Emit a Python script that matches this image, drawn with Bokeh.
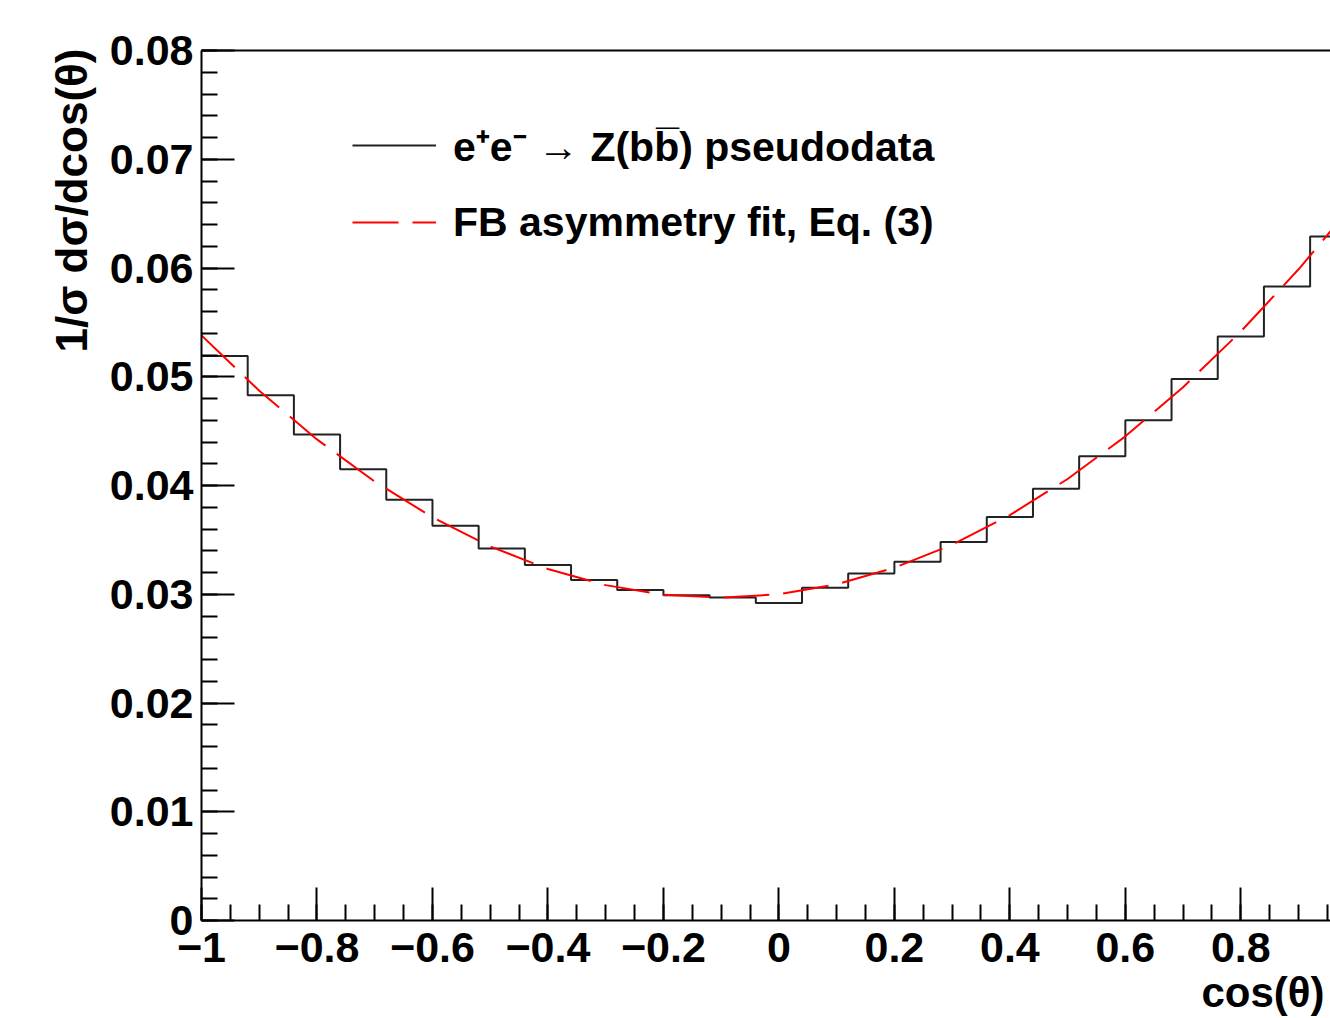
import numpy as np
from bokeh.plotting import figure
from bokeh.models import Range1d, LinearAxis, FixedTicker, Title, Legend, LegendItem
from bokeh.embed import file_html
from bokeh.resources import INLINE

# ---- data ----
bin_edges = np.round(np.linspace(-1.0, 1.0, 26), 4)
hist_values = [0.0519, 0.0483, 0.0447, 0.0415, 0.0387, 0.0363, 0.0342, 0.0327, 0.0313,
               0.0304, 0.0299, 0.0297, 0.0292, 0.0306, 0.0319, 0.0330, 0.0348, 0.0371,
               0.0397, 0.0427, 0.0460, 0.0498, 0.0537, 0.0583, 0.0629]
fit_x = [-1.0, -0.9, -0.8, -0.7, -0.6, -0.5, -0.4, -0.3, -0.2, -0.1, 0.0,
         0.1, 0.2, 0.3, 0.4, 0.5, 0.6, 0.7, 0.8, 0.9, 1.0]
fit_y = [0.0538, 0.04872, 0.04424, 0.04036, 0.03708, 0.0344, 0.03232, 0.03084, 0.02996,
         0.02968, 0.0300, 0.03092, 0.03244, 0.03456, 0.03728, 0.0406, 0.04452, 0.04904,
         0.05416, 0.05988, 0.0662]
x_ticks = [-1.0, -0.8, -0.6, -0.4, -0.2, 0.0, 0.2, 0.4, 0.6, 0.8]
x_tick_labels = ["\u22121", "\u22120.8", "\u22120.6", "\u22120.4", "\u22120.2", "0", "0.2", "0.4", "0.6", "0.8"]
y_ticks = [0.0, 0.01, 0.02, 0.03, 0.04, 0.05, 0.06, 0.07, 0.08]
y_tick_labels = ["0", "0.01", "0.02", "0.03", "0.04", "0.05", "0.06", "0.07", "0.08"]
legend_labels = ["e\u207Ae\u207B \u2192 Z(bb\u0305) pseudodata", "FB asymmetry fit, Eq. (3)"]
x_title = "cos(\u03b8)"
y_title = "1/\u03c3 d\u03c3/dcos(\u03b8)"

FONT = "Liberation Sans"

p = figure(width=1330, height=1018, x_range=Range1d(-1.0, 0.9553), y_range=Range1d(0.0, 0.08),
           output_backend="svg", toolbar_location=None,
           min_border_left=201, min_border_right=0, min_border_top=50, min_border_bottom=98)
p.outline_line_color = None
p.xgrid.visible = False
p.ygrid.visible = False
p.background_fill_color = "white"
p.border_fill_color = "white"

step_x = list(bin_edges)
step_y = hist_values + [hist_values[-1]]
hist = p.step(step_x, step_y, mode="after", line_color="#222222", line_width=2)
fit = p.line(fit_x, fit_y, line_color="#ff0000", line_width=2, line_dash="46 14")

x_minor = [round(v, 3) for v in np.arange(-1.0, 1.001, 0.05)]
y_minor = [round(v, 4) for v in np.arange(0.0, 0.0801, 0.002)]

for ax, ticks, labels, minor in ((p.xaxis[0], x_ticks, x_tick_labels, x_minor),
                                 (p.yaxis[0], y_ticks, y_tick_labels, y_minor)):
    ax.ticker = FixedTicker(ticks=ticks, minor_ticks=minor)
    ax.major_label_overrides = dict(zip(ticks, labels))
    ax.major_tick_in = 33
    ax.major_tick_out = 0
    ax.minor_tick_in = 16
    ax.minor_tick_out = 0
    ax.axis_line_width = 2
    ax.axis_line_color = "black"
    ax.major_tick_line_width = 2
    ax.minor_tick_line_width = 2
    ax.major_tick_line_color = "black"
    ax.minor_tick_line_color = "black"
    ax.major_label_text_font = FONT
    ax.major_label_text_font_style = "bold"
    ax.major_label_text_font_size = "43px"
    ax.major_label_text_color = "black"

p.xaxis.major_label_standoff = 12
p.yaxis.major_label_standoff = 8

top_axis = LinearAxis(ticker=FixedTicker(ticks=[]), major_label_text_font_size="0px",
                      axis_line_width=2, axis_line_color="black",
                      major_tick_line_color=None, minor_tick_line_color=None)
p.add_layout(top_axis, "above")

p.add_layout(Title(text=x_title, align="right", offset=6, standoff=4,
                   text_font=FONT, text_font_style="bold", text_font_size="42px",
                   text_color="black"), "below")
p.add_layout(Title(text=y_title, align="right", offset=-2, standoff=21,
                   text_font=FONT, text_font_style="bold", text_font_size="44px",
                   text_color="black"), "left")

legend = Legend(items=[LegendItem(label=legend_labels[0], renderers=[hist]),
                       LegendItem(label=legend_labels[1], renderers=[fit])],
                location=(151, 673), border_line_color=None, background_fill_alpha=0,
                padding=0, margin=0, spacing=24, glyph_width=84, glyph_height=50,
                label_height=50, label_standoff=17, label_text_font=FONT,
                label_text_font_style="bold", label_text_font_size="41px",
                label_text_color="black")
p.add_layout(legend)

open("out.html", "w").write(file_html(p, INLINE))
